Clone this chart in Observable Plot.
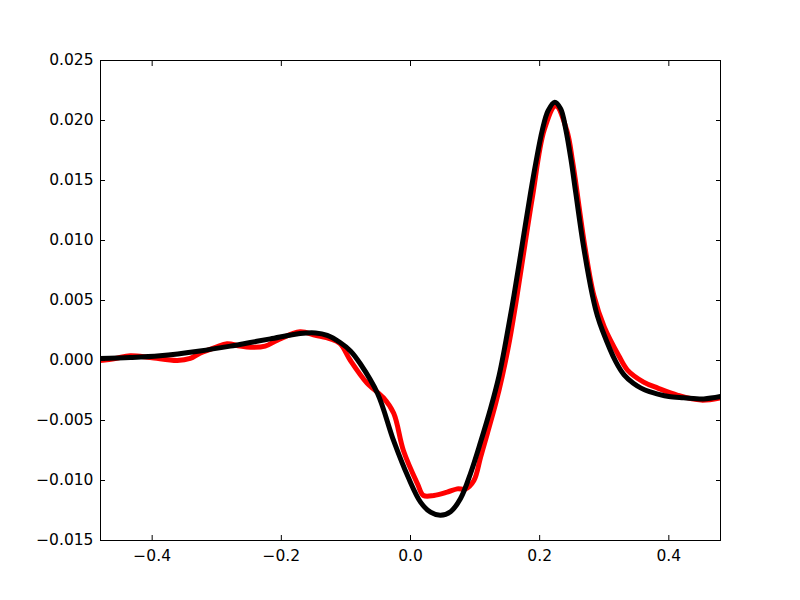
<!DOCTYPE html>
<html>
<head>
<meta charset="utf-8">
<script src="https://cdn.jsdelivr.net/npm/d3@7"></script>
<script src="https://cdn.jsdelivr.net/npm/@observablehq/plot@0.6"></script>
<style>
  html, body { margin: 0; padding: 0; background: #ffffff; }
  #chart { width: 800px; height: 600px; }
</style>
</head>
<body>
<div id="chart"></div>
<script>
const xTicks = [-0.4, -0.2, 0.0, 0.2, 0.4];
const yTicks = [-0.015, -0.010, -0.005, 0.000, 0.005, 0.010, 0.015, 0.020, 0.025];

const redX = [-0.4806, -0.457, -0.434, -0.403, -0.361, -0.341, -0.326, -0.302, -0.284, -0.264,
  -0.248, -0.225, -0.206, -0.171, -0.147, -0.124, -0.109, -0.093, -0.067, -0.042,
  -0.026, -0.011, 0.011, 0.020, 0.0362, 0.0568, 0.0724, 0.0853, 0.0982, 0.1085,
  0.1189, 0.1318, 0.1421, 0.1535, 0.165, 0.177, 0.189, 0.207, 0.2248, 0.2419,
  0.2512, 0.2697, 0.2840, 0.300, 0.3225, 0.336, 0.361, 0.383, 0.414, 0.450, 0.4806];
const redY = [0.0, 0.00017, 0.0004, 0.00025, 0.0, 0.00017, 0.0006, 0.0011, 0.0014, 0.0012,
  0.0011, 0.0012, 0.0017, 0.0024, 0.0021, 0.0018, 0.0014, 0.0, -0.0019, -0.0031,
  -0.0044, -0.0075, -0.0103, -0.01125, -0.01125, -0.01097, -0.0107, -0.0107, -0.0100, -0.00806,
  -0.0061, -0.0036, -0.0013, 0.0017, 0.0054, 0.0096, 0.0137, 0.0192, 0.0212, 0.0192,
  0.0165, 0.0096, 0.0054, 0.0028, 0.0004, -0.0008, -0.0018, -0.0023, -0.0029, -0.0033, -0.0031];

const blackX = [-0.4806, -0.434, -0.388, -0.326, -0.279, -0.248, -0.217, -0.171, -0.147, -0.129,
  -0.109, -0.093, -0.078, -0.051, -0.026, -0.003, 0.0155, 0.031, 0.0465, 0.062,
  0.0775, 0.093, 0.1085, 0.124, 0.137, 0.1473, 0.1602, 0.1731, 0.186, 0.1938,
  0.2041, 0.2129, 0.2233, 0.2326, 0.2403, 0.2491, 0.2558, 0.2677, 0.2817, 0.2895,
  0.2972, 0.3178, 0.3307, 0.345, 0.357, 0.370, 0.383, 0.400, 0.423, 0.454, 0.4806];
const blackY = [0.00017, 0.00025, 0.0004, 0.0008, 0.0012, 0.0015, 0.0018, 0.00225, 0.0023, 0.0021,
  0.0015, 0.0008, -0.00025, -0.00275, -0.0067, -0.0098, -0.0118, -0.01264, -0.0129, -0.0126,
  -0.0115, -0.0094, -0.0068, -0.0040, -0.0013, 0.0015, 0.00542, 0.0097, 0.0140, 0.0164,
  0.0192, 0.0208, 0.02153, 0.02097, 0.0193, 0.01653, 0.0140, 0.00958, 0.00542, 0.0037,
  0.0025, -0.0001, -0.0012, -0.0019, -0.0023, -0.0026, -0.0028, -0.0030, -0.0031, -0.0032, -0.0030];

const red = redX.map((x, i) => ({x, y: redY[i]}));
const black = blackX.map((x, i) => ({x, y: blackY[i]}));

const chart = Plot.plot({
  width: 800,
  height: 600,
  marginLeft: 100,
  marginRight: 80,
  marginTop: 60,
  marginBottom: 60,
  style: {fontFamily: "DejaVu Sans", fontSize: "15.5px", color: "black", background: "white"},
  x: {domain: [-0.48, 0.48]},
  y: {domain: [-0.015, 0.025]},
  marks: [
    Plot.line(red, {x: "x", y: "y", stroke: "#ff0000", strokeWidth: 5, curve: "catmull-rom", clip: true}),
    Plot.line(black, {x: "x", y: "y", stroke: "#000000", strokeWidth: 5, curve: "catmull-rom", clip: true}),
    Plot.axisX({anchor: "bottom", ticks: xTicks, tickSize: 0, tickPadding: 9, tickFormat: d3.format(".1f"), label: null}),
    Plot.axisX({anchor: "bottom", ticks: xTicks, tickSize: -5, text: null, label: null}),
    Plot.axisX({anchor: "top", ticks: xTicks, tickSize: -5, text: null, label: null}),
    Plot.axisY({anchor: "left", ticks: yTicks, tickSize: 0, tickPadding: 7, tickFormat: d3.format(".3f"), label: null}),
    Plot.axisY({anchor: "left", ticks: yTicks, tickSize: -5, text: null, label: null}),
    Plot.axisY({anchor: "right", ticks: yTicks, tickSize: -5, text: null, label: null}),
    Plot.frame({stroke: "black", strokeWidth: 1})
  ]
});
document.getElementById("chart").appendChild(chart);
</script>
</body>
</html>
